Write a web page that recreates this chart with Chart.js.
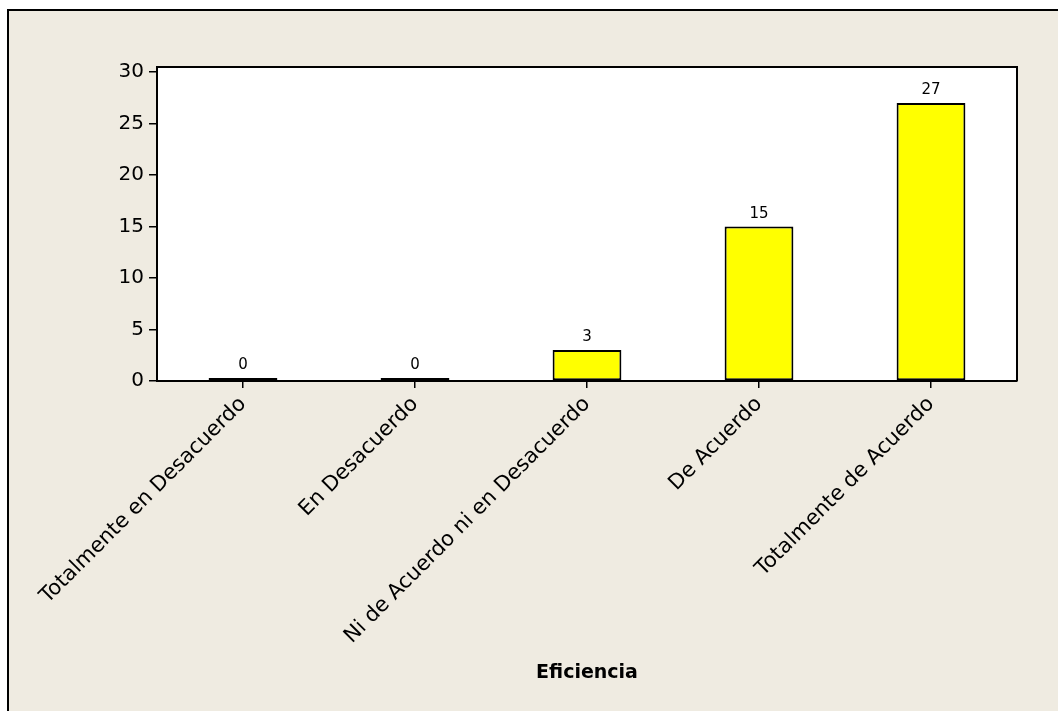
<!DOCTYPE html>
<html>
<head>
<meta charset="utf-8">
<script src="https://cdn.jsdelivr.net/npm/chart.js@4.4.1/dist/chart.umd.min.js"></script>
<style>
  html, body { margin: 0; padding: 0; background: #fff; }
  #wrap { width: 1058px; height: 711px; }
</style>
</head>
<body>
<div id="wrap"><canvas id="myChart" width="1058" height="711"></canvas></div>
<script>
const categories = [
  "Totalmente en Desacuerdo",
  "En Desacuerdo",
  "Ni de Acuerdo ni en Desacuerdo",
  "De Acuerdo",
  "Totalmente de Acuerdo",
];
const counts = [0, 0, 3, 15, 27];
const yTicks = [0, 5, 10, 15, 20, 25, 30];
const axisTitle = "Eficiencia";

const fontFamily = "'DejaVu Sans', Verdana, sans-serif";
const beige = "#EFEBE1";

// background frame + white plot area
const framePlugin = {
  id: "frame",
  beforeDraw(chart) {
    const ctx = chart.ctx;
    const area = chart.chartArea;
    ctx.save();
    ctx.fillStyle = "#fff";
    ctx.fillRect(0, 0, chart.width, chart.height);
    ctx.fillStyle = beige;
    ctx.fillRect(8, 10, chart.width - 8, chart.height - 10);
    ctx.strokeStyle = "#000";
    ctx.lineWidth = 2;
    ctx.beginPath();
    ctx.moveTo(8, chart.height);
    ctx.lineTo(8, 10);
    ctx.lineTo(chart.width, 10);
    ctx.stroke();
    ctx.fillStyle = "#fff";
    ctx.fillRect(area.left, area.top, area.right - area.left, area.bottom - area.top);
    ctx.restore();
  },
  afterDraw(chart) {
    const ctx = chart.ctx;
    const area = chart.chartArea;
    ctx.save();
    ctx.strokeStyle = "#000";
    ctx.lineWidth = 2;
    ctx.beginPath();
    ctx.moveTo(area.left, area.top);
    ctx.lineTo(area.right, area.top);
    ctx.lineTo(area.right, area.bottom);
    ctx.stroke();
    ctx.restore();
  },
};

// count labels above each bar
const valueLabels = {
  id: "valueLabels",
  afterDatasetsDraw(chart) {
    const ctx = chart.ctx;
    const meta = chart.getDatasetMeta(0);
    ctx.save();
    ctx.fillStyle = "#000";
    ctx.font = "15px " + fontFamily;
    ctx.textAlign = "center";
    ctx.textBaseline = "alphabetic";
    meta.data.forEach((bar, i) => {
      ctx.fillText(String(counts[i]), bar.x, bar.y - 9);
    });
    ctx.restore();
  },
};

const ctx = document.getElementById("myChart");

new Chart(ctx, {
  type: "bar",
  data: {
    labels: categories,
    datasets: [
      {
        data: counts,
        backgroundColor: "#FFFF00",
        borderColor: "#000",
        borderWidth: 2,
        borderSkipped: false,
        minBarLength: 3,
        barPercentage: 0.4,
        categoryPercentage: 1.0,
      },
    ],
  },
  options: {
    responsive: false,
    animation: false,
    devicePixelRatio: 1,
    layout: {
      padding: { top: 67, right: 41, left: 0, bottom: 0 },
    },
    scales: {
      x: {
        ticks: {
          color: "#000",
          font: { family: fontFamily, size: 21 },
          minRotation: 45,
          maxRotation: 45,
          autoSkip: false,
          padding: 4,
        },
        grid: {
          offset: false,
          drawOnChartArea: false,
          tickLength: 7,
          color: "#000",
          lineWidth: 1.5,
        },
        border: { display: true, color: "#000", width: 2 },
        title: {
          display: true,
          text: axisTitle,
          color: "#000",
          font: { family: fontFamily, size: 19, weight: "bold" },
          padding: { top: 0, bottom: 27 },
        },
        afterFit(scale) {
          scale.height = 330;
        },
      },
      y: {
        min: 0,
        max: 30.5,
        afterBuildTicks(scale) {
          scale.ticks = yTicks.map((v) => ({ value: v }));
        },
        ticks: {
          color: "#000",
          font: { family: fontFamily, size: 20 },
          padding: 5,
        },
        grid: {
          drawOnChartArea: false,
          tickLength: 8,
          color: "#000",
          lineWidth: 1.5,
        },
        border: { display: true, color: "#000", width: 2 },
        afterFit(scale) {
          scale.width = 157;
        },
      },
    },
    plugins: {
      legend: { display: false },
      tooltip: { enabled: false },
    },
  },
  plugins: [framePlugin, valueLabels],
});
</script>
</body>
</html>
